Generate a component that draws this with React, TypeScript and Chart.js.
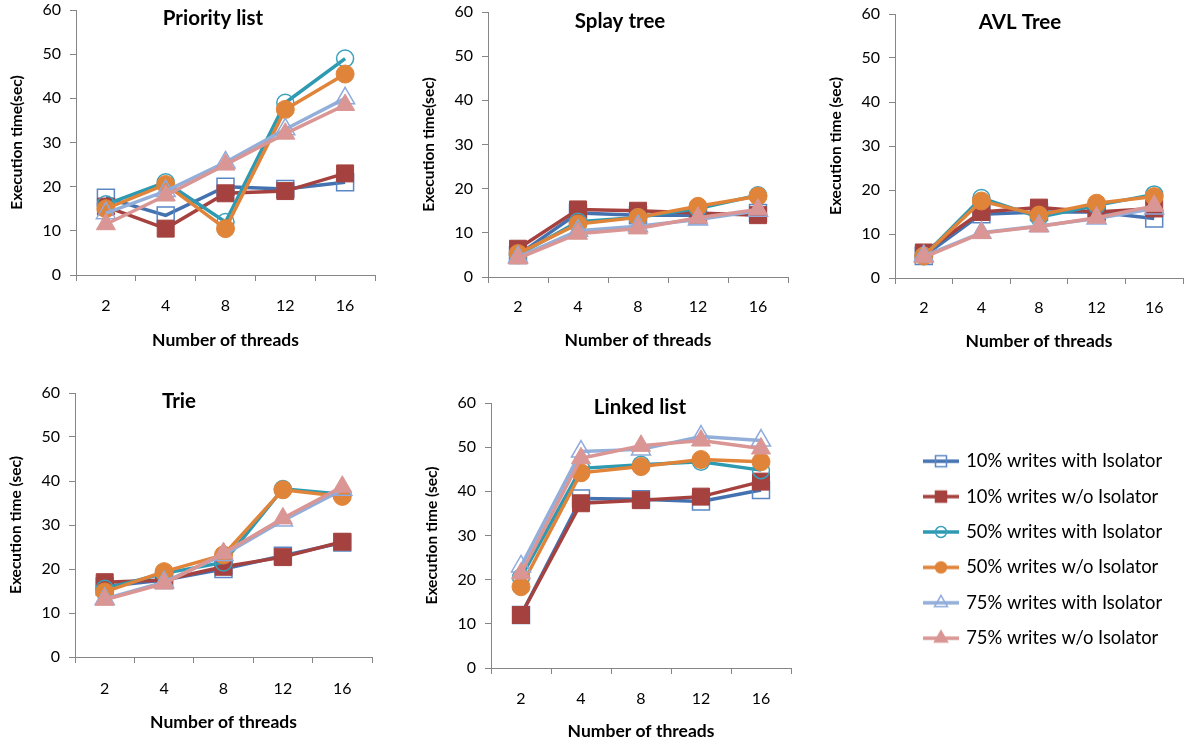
import React, { useEffect, useRef } from 'react';
import { Chart, registerables } from 'chart.js';

Chart.register(...registerables);

// ---------------- data ----------------
const threadCounts = ['2', '4', '8', '12', '16'];
const seriesNames = [
  '10% writes with Isolator',
  '10% writes w/o Isolator',
  '50% writes with Isolator',
  '50% writes w/o Isolator',
  '75% writes with Isolator',
  '75% writes w/o Isolator',
];
const yAxisMin = 0;
const yAxisMax = 60;
const yAxisStep = 10;

// rows follow seriesNames order, columns follow threadCounts
const priorityListValues = [
  [17.5, 13.5, 20, 19.5, 21],
  [15.5, 10.5, 18.5, 19, 23],
  [16, 21, 12, 39, 49],
  [15, 20.5, 10.5, 37.5, 45.5],
  [14, 19, 25.5, 33, 40],
  [11.5, 18, 25, 32, 38.5],
];
const splayTreeValues = [
  [5, 14.5, 14, 14, 14.5],
  [6.4, 15.3, 15, 14.5, 14],
  [5, 12.5, 13.5, 15.5, 18.5],
  [5.3, 12, 13.5, 16, 18.3],
  [4.5, 10.5, 11.5, 13, 15],
  [4.2, 9.8, 11, 13.4, 15.3],
];
const avlTreeValues = [
  [5, 14.5, 15, 15, 13.5],
  [5.8, 15, 16, 15, 15.8],
  [5, 18.2, 13.8, 16.5, 19],
  [5, 17.5, 14.3, 17, 18.5],
  [5, 10.3, 11.8, 13.5, 15.8],
  [4.7, 10.2, 11.7, 13.7, 16.4],
];
const trieValues = [
  [16, 17.5, 20, 23, 26],
  [17, 17.5, 20.5, 22.7, 26.2],
  [15.5, 19, 21.5, 38.2, 37],
  [14.8, 19.4, 23.2, 38, 36.5],
  [13.2, 17, 23.2, 31, 38],
  [13, 16.7, 23.6, 31.5, 38.7],
];
const linkedListValues = [
  [12, 38.4, 38.2, 37.7, 40.3],
  [12, 37.3, 38, 38.8, 42.2],
  [20.5, 45.2, 46, 46.7, 44.8],
  [18.4, 44.2, 45.6, 47.2, 46.7],
  [23, 49, 49.5, 52.4, 51.5],
  [21.4, 47.5, 50.3, 51.5, 49.7],
];

// ---------------- styles ----------------
const FONT = 'Lato, "Open Sans", sans-serif';
const lineColors = ['#4472B0', '#A5423F', '#2E9AB2', '#E0843A', '#93AFD9', '#D99694'];
const markerBorderColors = ['#5A87C4', '#A5423F', '#3AA0BB', '#E0843A', '#8FAADC', '#D99694'];
const markerShapes = ['rect', 'rect', 'circle', 'circle', 'triangle', 'triangle'];
const markerFilled = [false, true, false, true, false, true];
const markerRadius = [12, 12, 8.5, 9, 11, 11];
const AXIS_COLOR = '#868686';
const Y_AXIS_W = 76;
const X_AXIS_H = 76;
const TOP_PAD = 10;

type Geom = {
  areaL: number; areaT: number; areaR: number; areaB: number; padR: number;
  titleX: number; titleY: number; xTitlePad: number; labelPad: number;
};

const panelTitlePlugin = {
  id: 'panelTitle',
  afterDraw(chart: any, _args: any, opts: any) {
    const ctx = chart.ctx;
    ctx.save();
    ctx.font = `bold ${opts.size}px ${FONT}`;
    ctx.fillStyle = '#000';
    ctx.textAlign = 'center';
    ctx.textBaseline = 'middle';
    ctx.fillText(opts.text, opts.x, opts.y);
    ctx.restore();
  },
};

function buildConfig(values: number[][], title: string, yTitle: string, g: Geom) {
  const canvasL = g.areaL - Y_AXIS_W;
  const canvasT = g.areaT - TOP_PAD;
  return {
    type: 'line',
    data: {
      labels: threadCounts,
      datasets: values.map((row, i) => ({
        label: seriesNames[i],
        data: row,
        order: 6 - i,
        borderColor: lineColors[i],
        borderWidth: 3.5,
        pointStyle: markerShapes[i],
        pointRadius: markerRadius[i],
        pointHoverRadius: markerRadius[i],
        pointBackgroundColor: markerFilled[i] ? lineColors[i] : 'rgba(0,0,0,0)',
        pointBorderColor: markerBorderColors[i],
        pointBorderWidth: markerFilled[i] ? 1 : 1.5,
        tension: 0,
        fill: false,
        clip: false,
      })),
    },
    options: {
      responsive: false,
      animation: false,
      layout: { autoPadding: false, padding: { top: TOP_PAD, left: 0, right: g.padR, bottom: 0 } },
      plugins: {
        legend: { display: false },
        tooltip: { enabled: false },
        panelTitle: { text: title, x: g.titleX - canvasL, y: g.titleY - canvasT, size: 20.5 },
      },
      scales: {
        x: {
          type: 'category',
          offset: true,
          grid: {
            display: true, drawOnChartArea: false, drawTicks: true, tickLength: 6,
            color: AXIS_COLOR, offset: true, lineWidth: 1,
          },
          border: { display: true, color: AXIS_COLOR, width: 1 },
          ticks: { font: { family: FONT, size: 16 }, color: '#000', padding: g.labelPad, maxRotation: 0, autoSkip: false },
          title: {
            display: true, text: 'Number of threads', color: '#000',
            font: { family: FONT, size: 17.5, weight: 'bold' },
            padding: { top: 0, bottom: g.xTitlePad },
          },
          afterFit: (s: any) => {
            s.height = X_AXIS_H;
            s.paddingLeft = 0;
            s.paddingRight = 0;
          },
        },
        y: {
          min: yAxisMin,
          max: yAxisMax,
          grid: {
            display: true, drawOnChartArea: false, drawTicks: true, tickLength: 6,
            color: AXIS_COLOR, lineWidth: 1,
          },
          border: { display: true, color: AXIS_COLOR, width: 1 },
          ticks: { stepSize: yAxisStep, font: { family: FONT, size: 16 }, color: '#000', padding: 9 },
          title: {
            display: true, text: yTitle, color: '#000',
            font: { family: FONT, size: 15.5, weight: 'bold' },
            padding: { top: 7.5, bottom: 0 },
          },
          afterFit: (s: any) => {
            s.width = Y_AXIS_W;
            s.paddingTop = 0;
            s.paddingBottom = 0;
          },
        },
      },
    },
    plugins: [panelTitlePlugin],
  } as any;
}

function Panel({ values, title, yTitle, g }: { values: number[][]; title: string; yTitle: string; g: Geom }) {
  const ref = useRef<HTMLCanvasElement>(null);
  const left = g.areaL - Y_AXIS_W;
  const top = g.areaT - TOP_PAD;
  const width = g.areaR - g.areaL + Y_AXIS_W + g.padR;
  const height = g.areaB - g.areaT + TOP_PAD + X_AXIS_H;
  useEffect(() => {
    const chart = new Chart(ref.current as HTMLCanvasElement, buildConfig(values, title, yTitle, g));
    return () => chart.destroy();
  }, []);
  return (
    <canvas
      ref={ref}
      width={width}
      height={height}
      style={{ position: 'absolute', left, top, width, height }}
    />
  );
}

function makeGlyph(i: number): HTMLCanvasElement {
  const c = document.createElement('canvas');
  c.width = 36;
  c.height = 20;
  const ctx = c.getContext('2d') as CanvasRenderingContext2D;
  const cx = 18, cy = 10;
  ctx.strokeStyle = lineColors[i];
  ctx.lineWidth = 3.5;
  ctx.beginPath();
  ctx.moveTo(0, cy);
  ctx.lineTo(36, cy);
  ctx.stroke();
  ctx.beginPath();
  const shape = markerShapes[i];
  if (shape === 'rect') {
    const s = 5.5;
    ctx.rect(cx - s, cy - s, 2 * s, 2 * s);
  } else if (shape === 'circle') {
    ctx.arc(cx, cy, 5.5, 0, Math.PI * 2);
  } else {
    const r = 7.5;
    ctx.moveTo(cx, cy - r);
    ctx.lineTo(cx + r * Math.sin((2 * Math.PI) / 3), cy - r * Math.cos((2 * Math.PI) / 3));
    ctx.lineTo(cx + r * Math.sin((4 * Math.PI) / 3), cy - r * Math.cos((4 * Math.PI) / 3));
    ctx.closePath();
  }
  ctx.closePath();
  if (markerFilled[i]) {
    ctx.fillStyle = lineColors[i];
    ctx.fill();
  }
  ctx.strokeStyle = markerBorderColors[i];
  ctx.lineWidth = 1.5;
  ctx.stroke();
  return c;
}

function LegendBox() {
  const ref = useRef<HTMLCanvasElement>(null);
  useEffect(() => {
    const glyphs = seriesNames.map((_, i) => makeGlyph(i));
    const chart = new Chart(ref.current as HTMLCanvasElement, {
      type: 'line',
      data: {
        labels: [],
        datasets: seriesNames.map((n, i) => ({ label: n, data: [], borderColor: lineColors[i] })),
      },
      options: {
        responsive: false,
        animation: false,
        layout: { padding: 0 },
        scales: { x: { display: false }, y: { display: false } },
        plugins: {
          tooltip: { enabled: false },
          legend: {
            position: 'top',
            align: 'start',
            maxHeight: 400,
            labels: {
              usePointStyle: true,
              pointStyleWidth: 32,
              padding: 17,
              color: '#000',
              font: { family: FONT, size: 18.4 },
              generateLabels: () =>
                seriesNames.map((n, i) => ({
                  text: n,
                  pointStyle: glyphs[i],
                  fillStyle: 'rgba(0,0,0,0)',
                  strokeStyle: 'rgba(0,0,0,0)',
                  lineWidth: 0,
                  hidden: false,
                  datasetIndex: i,
                })),
            },
          },
        },
      },
    } as any);
    return () => chart.destroy();
  }, []);
  return (
    <canvas
      ref={ref}
      width={277}
      height={240}
      style={{ position: 'absolute', left: 908, top: 435, width: 277, height: 240 }}
    />
  );
}

const panels = [
  { values: priorityListValues, title: 'Priority list', yTitle: 'Execution time(sec)',
    g: { areaL: 76, areaT: 10, areaR: 375, areaB: 275, padR: 10, titleX: 213, titleY: 18, xTitlePad: 0, labelPad: 15 } },
  { values: splayTreeValues, title: 'Splay tree', yTitle: 'Execution time(sec)',
    g: { areaL: 488, areaT: 12, areaR: 788, areaB: 277, padR: 8, titleX: 620, titleY: 21, xTitlePad: 2, labelPad: 14 } },
  { values: avlTreeValues, title: 'AVL Tree', yTitle: 'Execution time (sec)',
    g: { areaL: 895, areaT: 14, areaR: 1183, areaB: 278, padR: 1, titleX: 1020, titleY: 22, xTitlePad: 2, labelPad: 14 } },
  { values: trieValues, title: 'Trie', yTitle: 'Execution time (sec)',
    g: { areaL: 75, areaT: 393, areaR: 372, areaB: 657, padR: 10, titleX: 179, titleY: 401, xTitlePad: 0, labelPad: 16 } },
  { values: linkedListValues, title: 'Linked list', yTitle: 'Execution time (sec)',
    g: { areaL: 491, areaT: 403, areaR: 791, areaB: 668, padR: 8, titleX: 640, titleY: 407, xTitlePad: 2, labelPad: 15 } },
];

export default function App() {
  return (
    <div
      style={{
        position: 'fixed', left: 0, top: 0, width: 1184, height: 744,
        background: '#fff', overflow: 'hidden',
      }}
    >
      {panels.map((p, i) => (
        <Panel key={i} values={p.values} title={p.title} yTitle={p.yTitle} g={p.g} />
      ))}
      <LegendBox />
    </div>
  );
}
